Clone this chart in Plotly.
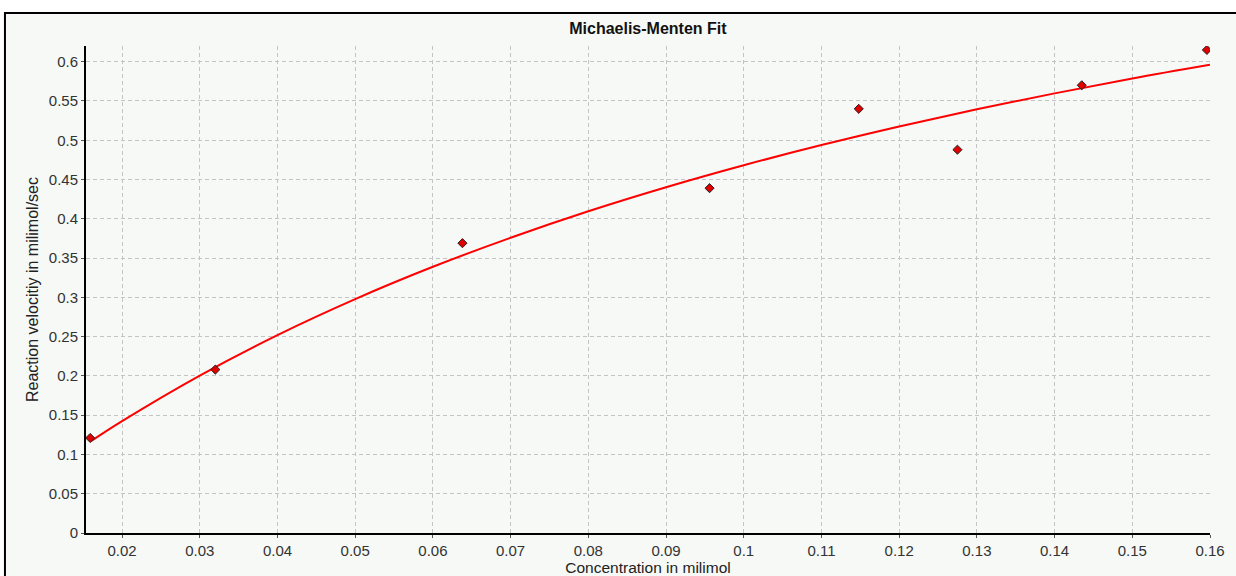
import plotly.graph_objects as go

# Measured substrate concentrations and reaction velocities
concentration = [0.0159, 0.0320, 0.0638, 0.0956, 0.1148, 0.1275, 0.1435, 0.1596]
velocity = [0.121, 0.208, 0.369, 0.439, 0.540, 0.488, 0.570, 0.615]

# Fitted Michaelis-Menten curve, sampled along the concentration axis
fit_conc = [0.016, 0.02, 0.03, 0.04, 0.05, 0.06, 0.07, 0.08, 0.09, 0.10,
            0.11, 0.12, 0.13, 0.14, 0.15, 0.16]
fit_vel = [0.117, 0.1425, 0.2005, 0.252, 0.2978, 0.3389, 0.3759, 0.4096, 0.4402,
           0.4682, 0.4939, 0.5176, 0.5395, 0.5597, 0.5786, 0.596]

x_ticks = [0.02, 0.03, 0.04, 0.05, 0.06, 0.07, 0.08, 0.09, 0.10, 0.11, 0.12,
           0.13, 0.14, 0.15, 0.16]
x_tick_labels = ["0.02", "0.03", "0.04", "0.05", "0.06", "0.07", "0.08", "0.09",
                 "0.1", "0.11", "0.12", "0.13", "0.14", "0.15", "0.16"]
y_ticks = [0, 0.05, 0.1, 0.15, 0.2, 0.25, 0.3, 0.35, 0.4, 0.45, 0.5, 0.55, 0.6]
y_tick_labels = ["0", "0.05", "0.1", "0.15", "0.2", "0.25", "0.3", "0.35", "0.4",
                 "0.45", "0.5", "0.55", "0.6"]

PANEL = "#f6f9f6"
GRID = "#c4c4c4"
FONT = "Liberation Sans, Arial, sans-serif"

fig = go.Figure()
fig.add_trace(go.Scatter(
    x=fit_conc, y=fit_vel, mode="lines", line=dict(color="#ff0000", width=2, shape="spline"),
    hoverinfo="skip", showlegend=False,
))
fig.add_trace(go.Scatter(
    x=concentration, y=velocity, mode="markers",
    marker=dict(symbol="diamond", size=7, color="#e00000", line=dict(color="#222222", width=1)),
    showlegend=False,
))

axis_common = dict(
    showline=True, linecolor="black", linewidth=2, mirror=False, automargin=False,
    showgrid=True, gridcolor=GRID, gridwidth=1, griddash="4px,3px",
    zeroline=False, ticks="outside", ticklen=3, tickcolor="#555555",
    tickfont=dict(family=FONT, size=15, color="#333333"),
    minor=dict(ticks="outside", ticklen=2, tickcolor="#777777", nticks=4, showgrid=False),
)

fig.update_xaxes(
    range=[0.01536, 0.16], tickvals=x_ticks, ticktext=x_tick_labels,
    title=dict(text="Concentration in milimol", font=dict(family=FONT, size=15.5, color="#222222"), standoff=0),
    **axis_common,
)
fig.update_yaxes(
    range=[0, 0.62], tickvals=y_ticks, ticktext=y_tick_labels,
    title=dict(text="Reaction velocitiy in milimol/sec", font=dict(family=FONT, size=16, color="#222222"), standoff=6),
    **axis_common,
)

fig.update_layout(
    width=1236, height=576,
    margin=dict(l=86, r=26, t=46, b=43),
    paper_bgcolor="white", plot_bgcolor=PANEL,
    title=dict(text="<b>Michaelis-Menten Fit</b>", x=0.5242, xanchor="center", y=0.951, yanchor="middle",
               font=dict(family=FONT, size=16, color="#111111")),
    shapes=[dict(type="rect", xref="paper", yref="paper", x0=-0.0721, x1=1.05, y0=-0.15, y1=1.0678,
                 line=dict(color="black", width=2), fillcolor=PANEL, layer="below")],
)

fig.write_html("out.html")
